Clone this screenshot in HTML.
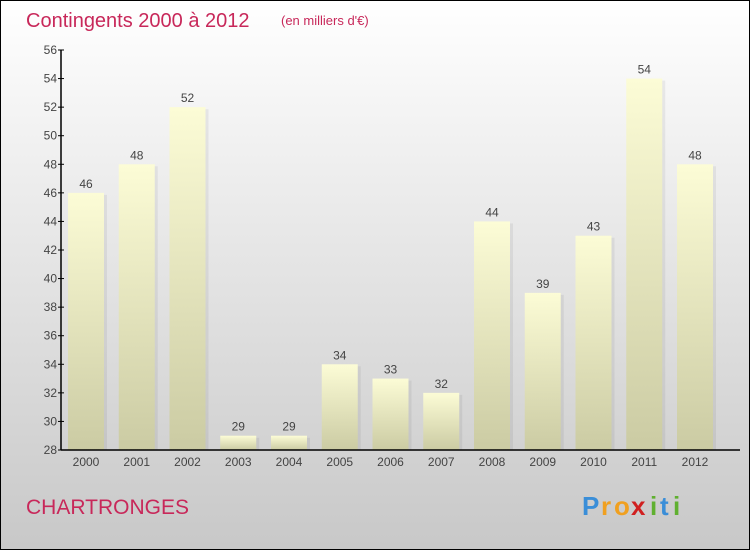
<!DOCTYPE html>
<html><head><meta charset="utf-8"><style>
body{margin:0}
svg{display:block;font-family:"Liberation Sans",sans-serif}
</style></head><body>
<svg id="c" width="750" height="550">
<defs>
<linearGradient id="bg" x1="0" y1="0" x2="0" y2="1"><stop offset="0" stop-color="#ffffff"/><stop offset="1" stop-color="#c8c8c8"/></linearGradient>
<linearGradient id="bar" x1="0" y1="0" x2="0" y2="1"><stop offset="0" stop-color="#fcfcd6"/><stop offset="1" stop-color="#cbcba3"/></linearGradient>
</defs>
<rect x="0.5" y="0.5" width="749" height="549" fill="url(#bg)" stroke="#000"/>
<text x="26" y="27" font-size="20" fill="#c8285a">Contingents 2000 à 2012</text>
<text x="281" y="25" font-size="13" fill="#c8285a">(en milliers d'€)</text>
<text x="26" y="514" font-size="21" fill="#c8285a">CHARTRONGES</text>
<g font-size="26" font-weight="bold">
<text x="582" y="515" fill="#3a8ed8">P</text><text x="601" y="515" fill="#f0a020">r</text><text x="614" y="515" fill="#f0a020">o</text><text x="631" y="515" fill="#d02020">x</text><text x="650" y="515" fill="#60b030">i</text><text x="660" y="515" fill="#3a8ed8">t</text><text x="673" y="515" fill="#60b030">i</text>
</g>
<g id="plot"></g>
</svg>
<script>
const categories=["2000","2001","2002","2003","2004","2005","2006","2007","2008","2009","2010","2011","2012"];
const values=[46,48,52,29,29,34,33,32,44,39,43,54,48];
const yTicks=[28,30,32,34,36,38,40,42,44,46,48,50,52,54,56];
const NS="http://www.w3.org/2000/svg";
const g=document.getElementById('plot');
const x0=61,x1=740,yTop=50,yBot=450,yMin=28,yMax=56;
const y=v=>yBot-(v-yMin)/(yMax-yMin)*(yBot-yTop);
const step=50.75;
const xc=i=>86+step*i;
function mk(t,a){const e=document.createElementNS(NS,t);for(const k in a)e.setAttribute(k,a[k]);g.appendChild(e);return e;}
values.forEach((v,i)=>{
 const r=mk('rect',{x:xc(i)-18+3,y:y(v)+2,width:36,height:yBot-y(v)-2,fill:'#000',opacity:0.06});
 
 
 const b=mk('rect',{x:xc(i)-18,y:y(v),width:36,height:yBot-y(v),fill:'url(#bar)'});
 
 
 const t=mk('text',{x:xc(i),y:y(v)-5,'text-anchor':'middle','font-size':12,fill:'#444'});
 t.textContent=v;
 
 
 const c=mk('text',{x:xc(i),y:466,'text-anchor':'middle','font-size':12,fill:'#444'});
 c.textContent=categories[i];
 
 
});
yTicks.forEach(v=>{
 const l=mk('line',{x1:x0-3,x2:x0+3,y1:y(v),y2:y(v),stroke:'#000'});
 
 
 const t=mk('text',{x:x0-4,y:y(v)+4,'text-anchor':'end','font-size':12,fill:'#444'});
 t.textContent=v;
 
 
});
const ya=mk('line',{x1:x0,x2:x0,y1:yTop,y2:yBot,stroke:'#000','stroke-width':1.5});


const xa=mk('line',{x1:x0,x2:x1,y1:yBot,y2:yBot,stroke:'#000','stroke-width':1.5});


</script>
</body></html>
